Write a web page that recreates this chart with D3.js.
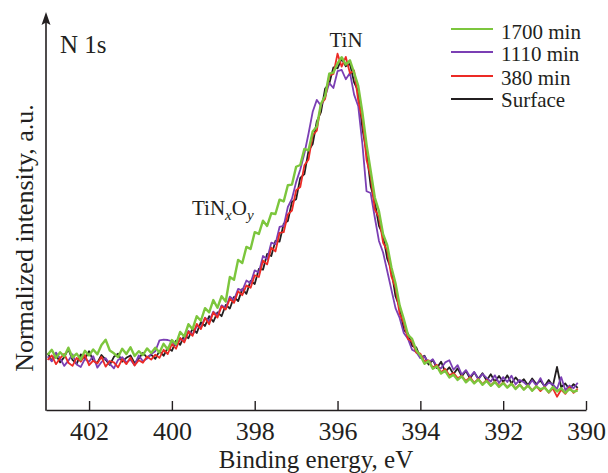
<!DOCTYPE html>
<html><head><meta charset="utf-8">
<script src="https://cdn.jsdelivr.net/npm/d3@7"></script>
<style>body{margin:0;background:#fff}svg{display:block}text{font-family:"Liberation Serif","Times New Roman",serif;fill:#231f20}</style>
</head><body><svg id="c" width="608" height="473"></svg>
<script>
// Binding energy grid: 403.0 eV down to 390.2 eV in 0.1 eV steps
const energyStart = 403.0, energyStep = 0.1, nPoints = 129;
const xTicks = [402, 400, 398, 396, 394, 392, 390];
const seriesColors = {"1700 min":"#7cc63d","1110 min":"#7b3fb4","380 min":"#ec2a25","Surface":"#231f20"};
const legendOrder = ["1700 min","1110 min","380 min","Surface"];

const surface = [16.2,14.1,15.8,13.6,15.1,17.4,14.3,13.2,15.9,14.6,16.8,14.0,13.5,15.7,14.4,12.9,15.2,16.1,13.8,14.9,15.6,13.4,14.7,16.3,15.0,15.8,
 14.6,16.9,15.5,17.8,16.9,19.8,18.6,21.4,20.5,23.3,22.0,25.1,24.0,26.8,25.2,27.9,26.8,30.0,29.0,32.3,31.1,34.6,33.2,36.9,
 36.0,40.3,40.1,44.6,44.0,48.3,48.1,53.2,54.0,59.5,60.2,66.3,67.4,74.1,76.0,82.5,85.1,91.8,93.2,97.9,
 97.6,100.4,98.2,98.9,93.6,91.1,80.3,73.8,64.0,59.5,52.6,50.0,43.2,40.1,32.5,29.4,22.8,21.9,18.3,17.9,
 15.0,15.5,13.0,14.3,12.0,13.8,10.9,12.2,10.3,11.9,9.6,11.2,9.0,10.8,8.9,10.5,8.4,10.2,8.1,9.7,8.0,9.9,7.6,9.3,7.9,8.8,7.1,9.0,7.4,8.4,6.8,8.6,6.9,12.3,6.5,7.6,5.9,7.4,6.3];
const min380 = [14.3,15.6,13.1,14.8,16.0,13.5,12.6,14.9,13.8,15.7,12.8,14.1,13.3,15.2,12.4,14.0,13.6,12.2,14.5,13.1,15.0,12.7,14.2,13.5,15.3,14.4,
 15.8,14.9,17.2,16.0,18.9,17.5,20.6,19.3,22.4,21.2,24.6,23.1,26.3,24.5,27.9,26.4,29.6,28.7,31.8,30.6,33.9,32.8,35.6,34.9,
 38.5,38.0,42.7,41.6,46.4,45.3,50.6,50.8,55.9,57.0,62.8,63.7,69.9,71.6,78.5,79.8,87.4,88.9,95.6,96.0,
 101.8,98.1,100.9,96.2,97.0,88.4,83.0,71.5,66.8,57.3,55.1,47.8,45.6,38.2,34.9,27.5,24.8,20.3,19.6,16.4,
 16.1,13.8,14.2,12.1,12.9,10.8,11.7,9.9,10.6,9.1,9.8,8.3,9.4,7.8,8.9,7.4,8.6,7.0,8.2,6.8,7.9,6.5,7.6,6.2,7.3,5.9,7.0,5.6,6.8,5.4,6.6,4.9,6.2,3.8,5.8,4.6,6.5,4.9,6.1];
const min1110 = [15.3,13.9,16.4,14.8,12.6,14.1,15.9,13.0,12.3,14.6,13.8,15.4,12.1,13.7,14.8,13.2,11.9,14.3,15.1,13.6,14.4,12.8,15.6,13.9,14.7,16.0,
 16.8,19.9,20.1,20.0,19.6,18.4,20.2,20.0,22.6,21.5,24.0,23.6,26.4,25.3,28.1,27.0,29.9,29.1,32.4,31.5,34.6,34.1,37.0,36.2,
 39.9,39.3,44.0,43.1,47.8,47.4,52.3,52.6,58.0,60.4,65.1,68.7,73.3,79.0,85.2,88.6,86.9,89.5,93.4,92.0,
 96.8,97.2,94.5,96.3,90.1,86.8,76.0,62.5,62.0,55.0,48.3,45.0,39.7,34.4,29.1,26.3,22.0,20.4,17.2,16.6,
 14.8,15.3,13.6,14.5,12.4,11.9,13.6,14.2,11.5,12.8,10.1,11.4,9.5,10.9,8.7,10.3,9.2,8.1,9.9,7.7,9.4,8.0,9.8,7.3,8.6,7.9,6.8,8.5,7.0,9.1,6.6,7.8,7.3,6.0,9.4,5.7,7.0,6.2,7.8];
const min1700 = [15.8,17.2,14.9,16.5,15.3,17.8,15.0,16.1,14.4,16.9,15.6,17.3,15.9,18.6,20.1,17.0,16.2,15.1,17.5,16.0,17.9,15.4,16.8,15.7,17.6,16.3,
 17.8,16.4,18.9,17.3,20.0,18.8,22.3,21.0,24.5,23.1,26.8,25.5,29.1,27.9,31.4,29.2,32.5,31.0,38.0,37.2,42.9,42.0,46.6,46.0,
 50.8,50.3,54.1,52.6,56.2,56.0,60.1,59.6,64.2,64.4,69.5,70.0,74.6,74.2,79.6,81.0,87.5,89.7,96.1,96.4,
 99.0,100.8,98.7,99.9,96.3,92.6,85.0,75.9,68.4,60.7,56.8,50.2,47.1,40.8,36.2,29.9,26.0,21.5,20.3,17.1,
 15.6,13.2,14.0,11.8,12.5,10.4,11.2,9.3,10.1,8.6,9.6,7.9,9.0,7.6,8.7,7.2,8.3,6.9,8.0,6.6,7.7,6.4,7.5,6.0,7.2,5.8,7.0,5.5,6.7,5.9,6.4,5.1,6.6,5.3,6.2,4.9,6.0,5.2,5.6];

const seriesData = {"Surface":surface,"380 min":min380,"1110 min":min1110,"1700 min":min1700};
const energies = d3.range(nPoints).map(i => +(energyStart - i*energyStep).toFixed(2));

const svg = d3.select("#c");
const x = d3.scaleLinear().domain([403.04, 390]).range([46, 586]);
const y = d3.scaleLinear().domain([0, 100]).range([410, 60]);

// x axis
const xa = svg.append("g").attr("transform","translate(0,410)")
  .call(d3.axisBottom(x).tickValues(xTicks).tickFormat(d3.format("d")).tickSizeInner(-9).tickSizeOuter(0).tickPadding(12));
xa.select(".domain").attr("stroke","#231f20").attr("stroke-width",1.6);
xa.selectAll(".tick line").attr("stroke","#231f20").attr("stroke-width",1.4);
xa.selectAll(".tick text").attr("font-size",26).attr("font-family","Liberation Serif").attr("fill","#231f20");

// y axis with arrow
svg.append("line").attr("x1",46).attr("x2",46).attr("y1",410.8).attr("y2",20).attr("stroke","#231f20").attr("stroke-width",1.6);
svg.append("path").attr("d","M46,12 L50.5,25 L46,22.5 L41.5,25 Z").attr("fill","#231f20");

// lines
const line = d3.line().x((d,i)=>x(energies[i])).y(d=>y(d));
const drawOrder = ["Surface","1110 min","380 min","1700 min"];
drawOrder.forEach(n=>{
  svg.append("path").datum(seriesData[n]).attr("d",line).attr("fill","none")
    .attr("stroke",seriesColors[n]).attr("stroke-width", n==="1700 min"?2.4:1.8).attr("stroke-linejoin","round");
});

// legend
const legY = [29, 52, 76, 99], legTY = [39, 61, 85, 107];
legendOrder.forEach((n,i)=>{
  svg.append("line").attr("x1",451).attr("x2",493).attr("y1",legY[i]).attr("y2",legY[i]).attr("stroke",seriesColors[n]).attr("stroke-width",2);
  svg.append("text").attr("x",501).attr("y",legTY[i]).attr("font-size",21).text(n);
});

// axis titles
svg.append("text").attr("x",316).attr("y",468).attr("text-anchor","middle").attr("font-size",25).text("Binding energy, eV");
svg.append("text").attr("transform","translate(33,238) rotate(-90)").attr("text-anchor","middle").attr("font-size",26).text("Normalized intensity, a.u.");

// annotations
svg.append("text").attr("x",60).attr("y",53).attr("font-size",25).text("N 1s");
svg.append("text").attr("x",346).attr("y",47).attr("text-anchor","middle").attr("font-size",21).text("TiN");
const t = svg.append("text").attr("x",192).attr("y",215).attr("font-size",21);
t.append("tspan").text("TiN");
t.append("tspan").attr("font-style","italic").attr("font-size",15).attr("dy",5).text("x");
t.append("tspan").attr("dy",-5).text("O");
t.append("tspan").attr("font-style","italic").attr("font-size",15).attr("dy",5).text("y");
</script></body></html>
